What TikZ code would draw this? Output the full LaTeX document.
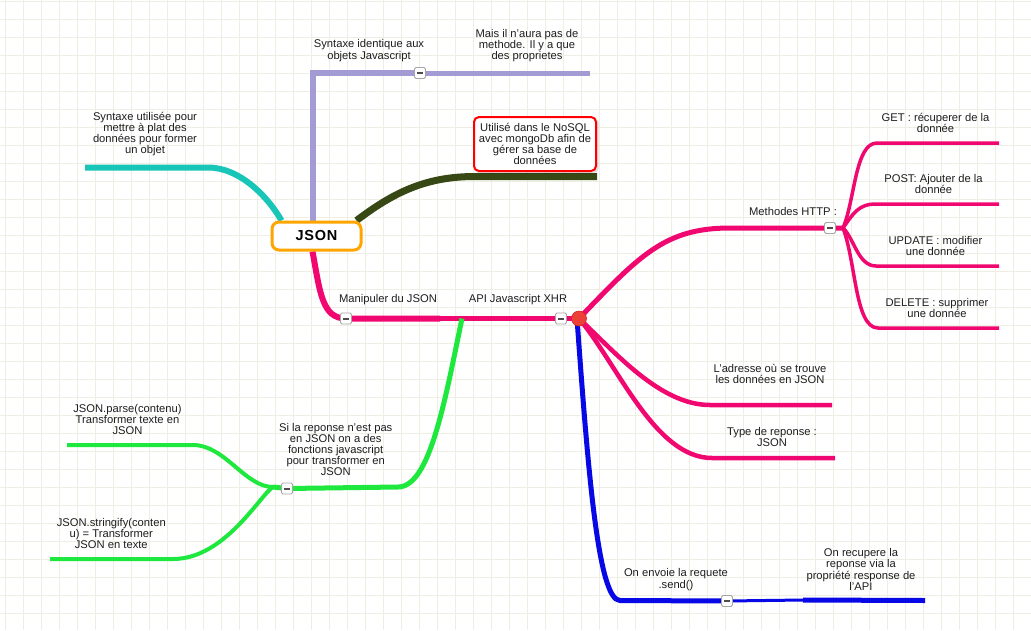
\documentclass[tikz,border=0pt]{standalone}
\usepackage{fontspec}
\setmainfont{Liberation Sans}
\pgfdeclarelayer{grid}
\pgfdeclarelayer{wires}
\pgfsetlayers{grid,wires,main}

\definecolor{gridc}{RGB}{238,238,226}
\definecolor{cLav}{RGB}{163,155,212}
\definecolor{cTeal}{RGB}{24,198,184}
\definecolor{cOlive}{RGB}{56,72,20}
\definecolor{cPink}{RGB}{240,8,112}
\definecolor{cBlue}{RGB}{8,8,230}
\definecolor{cGreen}{RGB}{30,232,62}
\definecolor{cOrange}{RGB}{255,165,0}
\definecolor{cDot}{RGB}{236,64,56}
\definecolor{cDotEdge}{RGB}{205,40,40}
\definecolor{cText}{RGB}{30,30,30}

\tikzset{
  lbl/.style={font=\fontsize{11.2}{11.2}\selectfont, align=center, text=cText, inner sep=0pt},
  rootnode/.style={draw=cOrange, line width=3pt, fill=white, rounded corners=7pt,
    minimum width=89pt, minimum height=28pt, inner sep=0pt,
    font=\fontsize{14.5}{14.5}\selectfont\bfseries},
  notebox/.style={draw=red, line width=2pt, fill=white, rounded corners=5pt,
    minimum width=122pt, minimum height=54pt, inner sep=0pt, align=center,
    font=\fontsize{11.2}{11.2}\selectfont, text=cText},
  collapse/.style={draw=black!35, fill=white, rounded corners=1.5pt, minimum size=11pt,
    inner sep=0pt, line width=0.8pt,
    path picture={\draw[black!70, line width=2pt]
      ([xshift=-3.2pt]path picture bounding box.center) --
      ([xshift=3.2pt]path picture bounding box.center);}},
  hub/.style={circle, draw=cDotEdge, fill=cDot, line width=0.6pt, minimum size=15pt, inner sep=0pt},
  wire/.style={line join=round},
}

\begin{document}
\begin{tikzpicture}[x=1pt,y=-1pt]
\useasboundingbox (0,0) rectangle (1031,630);

% background grid
\begin{pgfonlayer}{grid}
  \fill[white] (0,0) rectangle (1031,630);
  \foreach \i in {0,...,56} \draw[gridc, line width=1pt] ({5.3+18*\i},0) -- ({5.3+18*\i},630);
  \foreach \j in {0,...,35} \draw[gridc, line width=1pt] (0,{1+18*\j}) -- (1031,{1+18*\j});
\end{pgfonlayer}

% central topic
\node[rootnode] (json) at (316.5,236) {J\kern0.7pt S\kern0.7pt O\kern0.7pt N};

% collapse buttons
\node[collapse] (bLav)   at (420,73)  {};
\node[collapse] (bManip) at (346,318.5) {};
\node[collapse] (bApi)   at (561,318.5) {};
\node[collapse] (bMeth)  at (830,228) {};
\node[collapse] (bGreen) at (287,488.5) {};
\node[collapse] (bBlue)  at (727,601) {};

% XHR hub
\node[hub] (dot) at (579,318.5) {};

% note box
\node[notebox] (nosql) at (535,144) {Utilisé dans le NoSQL\\avec mongoDb afin de\\gérer sa base de\\données};

% labels
\node[lbl] (tLav1) at (369,50.5) {Syntaxe identique aux\\objets Javascript};
\node[lbl] (tLav2) at (527,45.5) {Mais il n'aura pas de\\methode. Il y a que\\des proprietes};
\node[lbl] (tTeal) at (145,134) {Syntaxe utilisée pour\\mettre à plat des\\données pour former\\un objet};
\node[lbl] (tManip) at (388,300) {Manipuler du JSON};
\node[lbl] (tApi) at (518,300) {API Javascript XHR};
\node[lbl] (tMeth) at (793,211) {Methodes HTTP :};
\node[lbl] (tGet) at (935.5,123) {GET : récuperer de la\\donnée};
\node[lbl] (tPost) at (933.5,184) {POST: Ajouter de la\\donnée};
\node[lbl] (tUpd) at (935.5,246) {UPDATE : modifier\\une donnée};
\node[lbl] (tDel) at (937,308) {DELETE : supprimer\\une donnée};
\node[lbl] (tAddr) at (770,374) {L'adresse où se trouve\\les données en JSON};
\node[lbl] (tType) at (772,437) {Type de reponse :\\JSON};
\node[lbl] (tSend) at (676,579.5) {On envoie la requete\\.send()};
\node[lbl] (tResp) at (861,569.5) {On recupere la\\reponse via la\\propriété response de\\l'API};
\node[lbl] (tParse) at (127.5,419.5) {JSON.parse(contenu)\\Transformer texte en\\JSON};
\node[lbl] (tIf) at (335.7,449.5) {Si la reponse n'est pas\\en JSON on a des\\fonctions javascript\\pour transformer en\\JSON};
\node[lbl] (tStr) at (111.3,533.5) {JSON.stringify(conten\\u) = Transformer\\JSON en texte};

% branch joints and free ends
\coordinate (lavCorner) at (312.5,73);
\coordinate (lavEnd) at (590,73);
\coordinate (tealBend) at (208,167.5);
\coordinate (tealEnd) at (85,167.5);
\coordinate (oliveBend) at (475,176.5);
\coordinate (oliveEnd) at (597,176.5);
\coordinate (pinkKink) at (440,318.5);
\coordinate (methBend) at (730,228);
\coordinate (methJ) at (843,228);
\coordinate (getBend) at (877,143);   \coordinate (getEnd) at (999,143);
\coordinate (postBend) at (876,204);  \coordinate (postEnd) at (999,204);
\coordinate (updBend) at (876,266);   \coordinate (updEnd) at (999,266);
\coordinate (delBend) at (878,328);   \coordinate (delEnd) at (999,328);
\coordinate (addrBend) at (710,405);  \coordinate (addrEnd) at (832,405);
\coordinate (typeBend) at (712,458);  \coordinate (typeEnd) at (835,458);
\coordinate (blueBend) at (620,600.5);
\coordinate (blueMid) at (803,600);
\coordinate (blueEnd) at (925,600.5);
\coordinate (greenTop) at (462,318.5);
\coordinate (greenBend) at (398,487);
\coordinate (greenJ) at (273,487);
\coordinate (parseBend) at (193,445);  \coordinate (parseEnd) at (67,445);
\coordinate (strBend) at (173,559);    \coordinate (strEnd) at (50,559);

\begin{pgfonlayer}{wires}
  % lavender branch
  \draw[cLav, line width=6pt, line join=miter] ([xshift=-4pt]json.north) -- (lavCorner) -- (bLav.center);
  \draw[cLav, line width=5pt] (bLav.center) -- (lavEnd);
  % teal branch
  \draw[cTeal, line width=6pt, wire] ([xshift=11pt]json.north west)
    .. controls (268,197) and (240,167.5) .. (tealBend) -- (tealEnd);
  % olive branch
  \draw[cOlive, line width=7pt, wire] ([xshift=-6pt]json.north east)
    .. controls (393,193) and (425,176.5) .. (oliveBend) -- (oliveEnd);
  % note shadow
  \fill[black, opacity=0.12, rounded corners=5pt]
    ([shift={(1.5pt,-1.5pt)}]nosql.south west) rectangle ([shift={(1.5pt,-1.5pt)}]nosql.north east);
  % pink trunk
  \draw[cPink, line width=6pt, wire] ([xshift=-4pt]json.south)
    .. controls (320,292) and (322,318.5) .. (bManip.center) -- (pinkKink);
  \draw[cPink, line width=5.5pt, wire] (pinkKink) -- (bApi.center) -- (dot.center);
  % HTTP methods
  \draw[cPink, line width=5pt, wire] (dot.center)
    .. controls (640,255) and (665,228) .. (methBend) -- (bMeth.center) -- (methJ);
  \draw[cPink, line width=3.5pt, wire] (methJ) .. controls (855,200) and (855,143) .. (getBend) -- (getEnd);
  \draw[cPink, line width=3.5pt, wire] (methJ) .. controls (853,214) and (858,204) .. (postBend) -- (postEnd);
  \draw[cPink, line width=3.5pt, wire] (methJ) .. controls (854,238) and (858,266) .. (updBend) -- (updEnd);
  \draw[cPink, line width=3.5pt, wire] (methJ) .. controls (856,262) and (855,328) .. (delBend) -- (delEnd);
  % address and type
  \draw[cPink, line width=4.5pt, wire] (dot.center)
    .. controls (615,352) and (660,405) .. (addrBend) -- (addrEnd);
  \draw[cPink, line width=4.5pt, wire] (dot.center)
    .. controls (618,365) and (655,458) .. (typeBend) -- (typeEnd);
  % blue branch
  \draw[cBlue, line width=5pt, wire] ([xshift=-2pt]dot.center)
    .. controls (588,470) and (598,600.5) .. (blueBend) -- (bBlue.center);
  \draw[cBlue, line width=3pt] (bBlue.center) -- (blueMid);
  \draw[cBlue, line width=5pt] (blueMid) -- (blueEnd);
  % green branch
  \draw[cGreen, line width=5pt, wire] (greenTop)
    .. controls (445,400) and (430,487) .. (greenBend) -- (bGreen.center) -- (greenJ);
  \draw[cGreen, line width=4pt, wire] (greenJ)
    .. controls (245,487) and (225,445) .. (parseBend) -- (parseEnd);
  \draw[cGreen, line width=4pt, wire] (greenJ)
    .. controls (260,495) and (225,559) .. (strBend) -- (strEnd);
\end{pgfonlayer}
\end{tikzpicture}
\end{document}
